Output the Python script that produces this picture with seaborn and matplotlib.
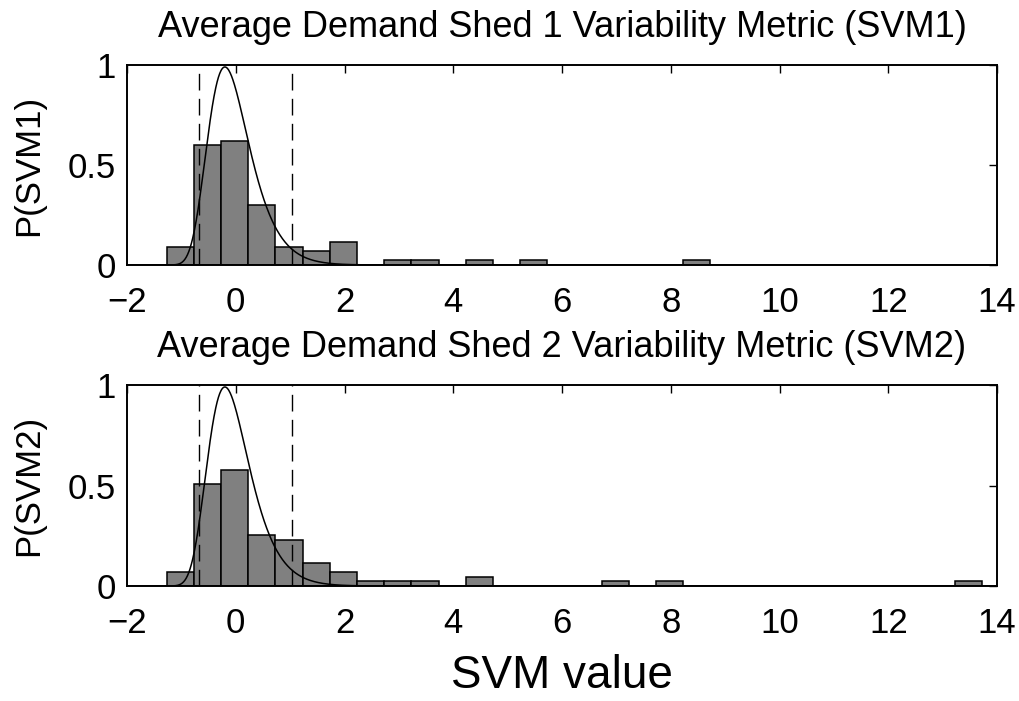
import numpy as np
import pandas as pd
import matplotlib
matplotlib.use("Agg")
import matplotlib.pyplot as plt
import seaborn as sns

# Histogram bins shared by both metrics (width 0.5, starting at -1.27)
bin_start = -1.27
bin_width = 0.5

# Event counts per bin (87 events per metric)
counts_svm1 = [4, 26, 27, 13, 4, 3, 5, 0, 1, 1, 0, 1, 0, 1, 0, 0, 0, 0, 0, 1]
counts_svm2 = [3, 22, 25, 11, 10, 5, 3, 1, 1, 1, 0, 2, 0, 0, 0, 0, 1, 0, 1,
               0, 0, 0, 0, 0, 0, 0, 0, 0, 0, 1]

# Fitted generalized extreme value density overlaid on both panels
gev_shape = -0.05
gev_loc = -0.219
gev_scale = 0.372

# Interval bounds shown as dashed lines
interval_bounds = [-0.68, 1.04]

titles = ["Average Demand Shed 1 Variability Metric (SVM1)",
          "Average Demand Shed 2 Variability Metric (SVM2)"]
ylabels = ["P(SVM1)", "P(SVM2)"]
xlabel = "SVM value"
xticks = [-2, 0, 2, 4, 6, 8, 10, 12, 14]
yticks = [0, 0.5, 1]
ytick_labels = ["0", "0.5", "1"]


def gev_pdf(x, shape, loc, scale):
    z = (x - loc) / scale
    out = np.zeros_like(x)
    if abs(shape) < 1e-9:
        t = np.exp(-z)
        return t * np.exp(-t) / scale
    base = 1.0 + shape * z
    ok = base > 0
    t = base[ok] ** (-1.0 / shape)
    out[ok] = t ** (shape + 1.0) * np.exp(-t) / scale
    return out


sns.set_style("white")
plt.rcParams["font.family"] = ["Liberation Sans", "DejaVu Sans"]
plt.rcParams["axes.unicode_minus"] = True

fig = plt.figure(figsize=(10.19, 7.01), dpi=100)
ax_top = fig.add_axes([127 / 1019, 1 - 265 / 701, 870 / 1019, 200 / 701])
ax_bot = fig.add_axes([127 / 1019, 1 - 586 / 701, 870 / 1019, 201 / 701])

x_curve = np.linspace(-2, 14, 2000)
curve_df = pd.DataFrame({"x": x_curve,
                         "p": gev_pdf(x_curve, gev_shape, gev_loc, gev_scale)})

for ax, counts, title, ylab in zip([ax_top, ax_bot],
                                   [counts_svm1, counts_svm2],
                                   titles, ylabels):
    n = len(counts)
    centers = bin_start + bin_width * (np.arange(n) + 0.5)
    df = pd.DataFrame({"v": centers, "w": np.asarray(counts, dtype=float)})
    sns.histplot(data=df, x="v", weights="w", binwidth=bin_width,
                 binrange=(bin_start, bin_start + bin_width * n),
                 stat="density", color="#808080", edgecolor="black",
                 linewidth=1.1, alpha=1.0, ax=ax)
    sns.lineplot(data=curve_df, x="x", y="p", color="black", linewidth=1.1,
                 ax=ax)
    for b in interval_bounds:
        ax.axvline(b, color="black", linewidth=1.0, dashes=(12, 6))

    ax.set_xlim(-2, 14)
    ax.set_ylim(0, 1)
    ax.set_xticks(xticks)
    ax.set_xticklabels([f"{t}".replace("-", "\u2212") for t in xticks])
    ax.set_yticks(yticks)
    ax.set_yticklabels(ytick_labels)
    ax.tick_params(axis="both", which="both", direction="in", length=6,
                   width=1.0, top=True, right=True, labelsize=25,
                   color="black", labelcolor="black")
    ax.tick_params(axis="x", pad=15)
    ax.tick_params(axis="y", pad=8)
    for s in ax.spines.values():
        s.set_visible(True)
        s.set_color("black")
        s.set_linewidth(1.4)
    ax.set_title(title, fontsize=26, pad=20, color="black")
    ax.set_ylabel(ylab, fontsize=25, color="black")
    ax.yaxis.set_label_coords(-0.094, 0.5)
    ax.set_xlabel("")

ax_bot.set_xlabel(xlabel, fontsize=33, color="black")
ax_bot.xaxis.set_label_coords(0.5, -0.34)
ax_bot.xaxis.label.set_va("top")

fig.savefig("out.png", dpi=100, facecolor="white")
